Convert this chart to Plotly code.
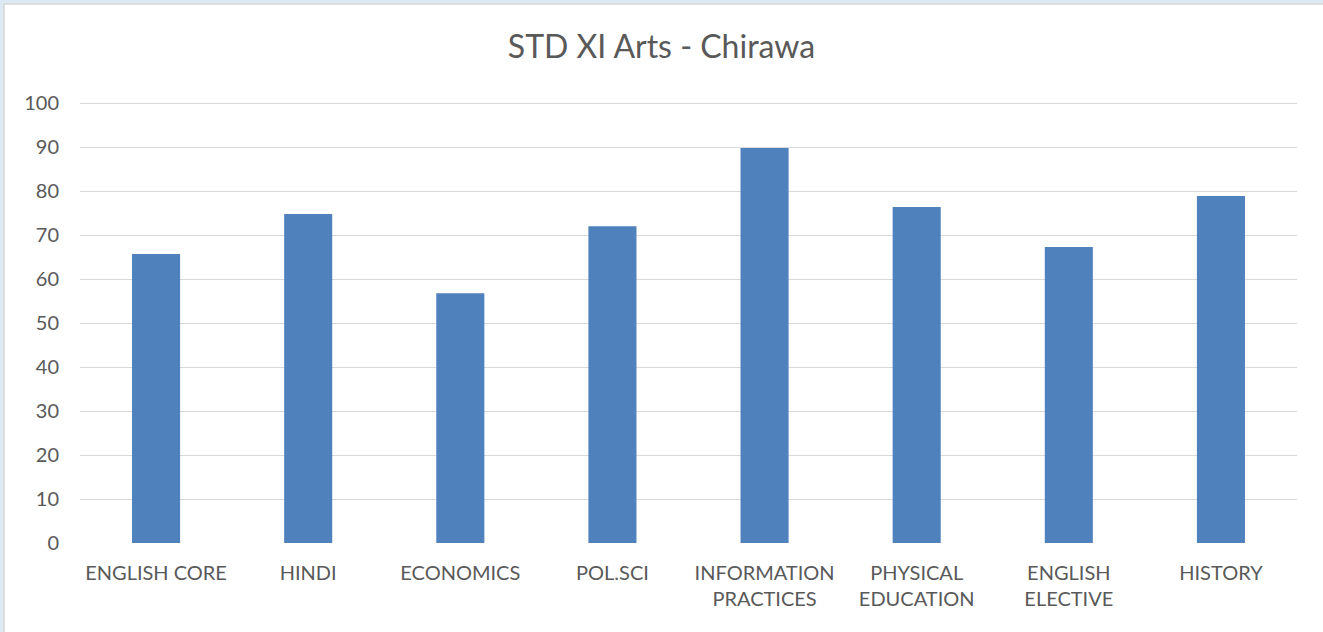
import plotly.graph_objects as go

# subjects and average marks
subjects = ["ENGLISH CORE", "HINDI", "ECONOMICS", "POL.SCI",
            "INFORMATION<br>PRACTICES", "PHYSICAL<br>EDUCATION",
            "ENGLISH<br>ELECTIVE", "HISTORY"]
marks = [65.7, 74.8, 56.8, 72.0, 89.8, 76.4, 67.3, 78.9]
y_ticks = list(range(0, 101, 10))

W, H = 1323, 632
L, R, T, B = 80, 26, 102, 89
pw, ph = W - L - R, H - T - B

fig = go.Figure(go.Bar(x=subjects, y=marks, marker_color="#4f81bd",
                       marker_line_width=0, width=0.316))

# white chart card over a pale blue page
fig.add_shape(type="rect", xref="paper", yref="paper", layer="below",
              x0=(4 - L) / pw, x1=(W + 5 - L) / pw,
              y0=-(B + 5) / ph, y1=(ph + T - 4) / ph,
              fillcolor="white", line=dict(color="#d6d6d6", width=1.5))

fig.update_layout(
    width=W, height=H,
    margin=dict(l=L, r=R, t=T, b=B),
    paper_bgcolor="#dde8f5", plot_bgcolor="rgba(0,0,0,0)",
    font=dict(family="Lato, sans-serif", color="#595959", size=20),
    title=dict(text="STD XI Arts - Chirawa", x=0.5, xanchor="center",
               y=1 - 47 / H, yanchor="middle",
               font=dict(size=32, color="#595959")),
    showlegend=False,
    bargap=0.684,
)
fig.update_xaxes(showgrid=False, showline=False, ticks="", tickangle=0,
                 ticklabelstandoff=16)
fig.update_yaxes(range=[0, 100.25], tickvals=y_ticks, showgrid=True,
                 gridcolor="#d9d9d9", gridwidth=1.3, zeroline=False,
                 showline=False, ticks="", ticklabelstandoff=20)

fig.write_html("out.html", config={"displayModeBar": False},
               post_script="document.body.style.margin='0';")
